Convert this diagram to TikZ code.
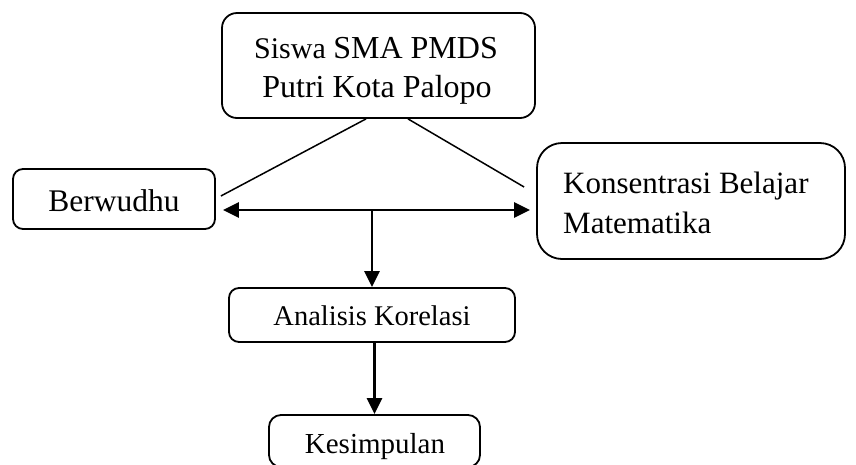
\documentclass[tikz,border=0pt]{standalone}
\usepackage{fontspec}
\setmainfont{Liberation Serif}
\usetikzlibrary{arrows.meta,calc}
\tikzset{
  box/.style={draw, line width=1.8pt, inner sep=0pt},
  txt/.style={inner sep=0pt, anchor=base},
  diag/.style={line width=1.5pt},
  arr/.style={line width=2.8pt, -{Triangle[length=16pt,width=15pt]}},
  darr/.style={line width=2.8pt, {Triangle[length=16pt,width=15pt]}-{Triangle[length=16pt,width=15pt]}}
}
\newcommand{\fs}[1]{\fontsize{#1}{#1}\selectfont}
\begin{document}
\begin{tikzpicture}[x=1pt,y=-1pt]
\useasboundingbox (0,0) rectangle (856,464);
% boxes
\node[box, rounded corners=15pt, minimum width=313pt, minimum height=105pt] (top) at (378.5,65.5) {};
\node[box, rounded corners=10pt, minimum width=202pt, minimum height=60pt] (berw) at (114,199) {};
\node[box, rounded corners=25pt, minimum width=308pt, minimum height=116pt] (kons) at (691,201) {};
\node[box, rounded corners=10pt, minimum width=286pt, minimum height=54pt] (anal) at (372,315) {};
\node[box, rounded corners=12pt, minimum width=211pt, minimum height=52pt] (kesi) at (374.5,441) {};
% texts
\node[txt] (toptxt1) at (376,58) {\fs{30}Siswa \fs{32}SMA PMDS};
\node[txt] (toptxt2) at (377,97) {\fs{32}Putri Kota Palopo};
\node[txt] (berwtxt) at (114,211) {\fs{31.5}Berwudhu};
\node[txt, anchor=base west] (konstxt1) at (563,193) {\fs{31}Konsentrasi Belajar};
\node[txt, anchor=base west] (konstxt2) at (563,233) {\fs{31}Matematika};
\node[txt] (analtxt) at (372,325) {\fs{28.5}Analisis Korelasi};
\node[txt] (kesitxt) at (375,453) {\fs{29}Kesimpulan};
% diagonal lines
\draw[diag] ([xshift=-12.5pt]top.south) -- ([xshift=5pt,yshift=3pt]berw.east);
\draw[diag] ([xshift=29.5pt]top.south) -- ([xshift=-12pt,yshift=14pt]kons.west);
% horizontal double arrow
\coordinate (hl) at ([xshift=7pt,yshift=-11pt]berw.east);
\coordinate (hr) at ([xshift=-6pt,yshift=-9pt]kons.west);
\coordinate (hm) at (anal.north |- hl);
\draw[darr] (hl) -- (hr);
\draw[arr] (hm) -- (anal.north);
\draw[arr] (kesi.north |- anal.south) -- (kesi.north);
\end{tikzpicture}
\end{document}
